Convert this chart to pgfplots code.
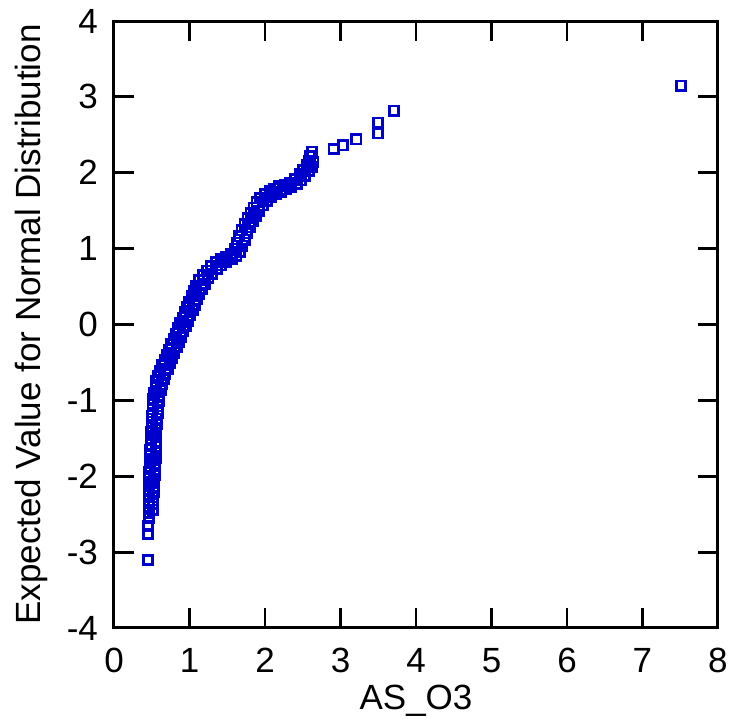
\documentclass[border=0pt]{standalone}
\usepackage{pgfplots}
\pgfplotsset{compat=1.18}
\usepackage{fontspec}
\setmainfont{Liberation Sans}
\definecolor{markblue}{RGB}{0,0,205}

\begin{document}
\fontsize{17.5}{21}\selectfont
\begin{tikzpicture}
\begin{axis}[
    at={(0,0)}, anchor=south west,
    scale only axis,
    width=302pt, height=303.5pt,
    xmin=0, xmax=8,
    ymin=-4, ymax=4,
    xtick={0,1,...,8},
    ytick={-4,-3,...,4},
    tick align=inside,
    major tick length=10pt,
    axis line style={line width=1.5pt},
    every tick/.style={black, line width=1.4pt},
    /pgf/number format/assume math mode=true,
    ticklabel style={font=\fontsize{17.5}{21}\selectfont},
    xticklabel style={yshift=-4pt},
    yticklabel style={xshift=-2pt},
    xlabel={AS\_O3},
    ylabel={Expected Value for Normal Distribution},
    label style={font=\fontsize{17.5}{21}\selectfont},
    xlabel style={at={(axis description cs:0.5,-0.12)}, anchor=center},
    ylabel style={at={(axis description cs:-0.137,0.5)}, anchor=center},
    clip=false,
]
% observations along the left edge of the band
\addplot[only marks, mark=square, mark size=2.3pt,
    mark options={draw=markblue, line width=1.4pt, fill=none}]
coordinates {
(0.45,-3.10) (0.45,-2.76) (0.45,-2.66) (0.46,-2.55) (0.46,-2.48)
(0.46,-2.40) (0.46,-2.32) (0.46,-2.25) (0.47,-2.18) (0.47,-2.10)
(0.47,-2.02) (0.47,-1.95) (0.48,-1.88) (0.48,-1.80) (0.48,-1.72)
(0.48,-1.65) (0.49,-1.58) (0.49,-1.50) (0.49,-1.42) (0.50,-1.35)
(0.50,-1.28) (0.50,-1.20) (0.51,-1.12) (0.51,-1.05) (0.52,-0.98)
(0.53,-0.90) (0.55,-0.82) (0.56,-0.75) (0.58,-0.68) (0.61,-0.61)
(0.64,-0.54) (0.67,-0.47) (0.70,-0.40) (0.73,-0.33) (0.76,-0.26)
(0.79,-0.19) (0.82,-0.12) (0.85,-0.05) (0.88,0.02) (0.91,0.09)
(0.94,0.16) (0.97,0.23) (1.00,0.30) (1.03,0.37) (1.06,0.44)
(1.09,0.51) (1.13,0.58) (1.18,0.65) (1.23,0.71) (1.29,0.77)
(1.35,0.82) (1.42,0.86) (1.49,0.89) (1.55,0.93) (1.60,1.00)
(1.63,1.08) (1.66,1.16) (1.69,1.24) (1.73,1.32) (1.77,1.40)
(1.81,1.47) (1.85,1.54) (1.89,1.61) (1.94,1.67) (2.00,1.72)
(2.06,1.76) (2.12,1.79) (2.19,1.82) (2.26,1.84) (2.33,1.87)
(2.40,1.92) (2.46,1.98) (2.51,2.04) (2.55,2.10) (2.58,2.16)
(2.60,2.22) (2.62,2.28)
(2.91,2.31) (3.03,2.36) (3.21,2.44) (3.50,2.52) (3.50,2.66)
(3.71,2.82) (7.51,3.15)
};
% observations along the right edge of the band
\addplot[only marks, mark=square, mark size=2.3pt,
    mark options={draw=markblue, line width=1.4pt, fill=none}]
coordinates {
(0.52,-2.44) (0.52,-2.36) (0.52,-2.28) (0.53,-2.21) (0.53,-2.14)
(0.53,-2.06) (0.54,-1.98) (0.54,-1.91) (0.54,-1.84) (0.55,-1.76)
(0.55,-1.68) (0.55,-1.61) (0.56,-1.54) (0.56,-1.46) (0.56,-1.38)
(0.57,-1.31) (0.57,-1.24) (0.58,-1.16) (0.58,-1.08) (0.59,-1.01)
(0.60,-0.94) (0.62,-0.86) (0.63,-0.79) (0.66,-0.72) (0.68,-0.65)
(0.71,-0.58) (0.74,-0.51) (0.77,-0.44) (0.80,-0.37) (0.83,-0.30)
(0.86,-0.23) (0.89,-0.16) (0.92,-0.09) (0.95,-0.02) (0.98,0.05)
(1.01,0.12) (1.04,0.19) (1.07,0.26) (1.10,0.33) (1.13,0.40)
(1.16,0.47) (1.20,0.54) (1.25,0.61) (1.30,0.67) (1.36,0.73)
(1.42,0.78) (1.49,0.82) (1.56,0.86) (1.62,0.90) (1.67,0.96)
(1.70,1.04) (1.73,1.12) (1.76,1.20) (1.80,1.28) (1.84,1.36)
(1.88,1.43) (1.92,1.50) (1.97,1.57) (2.02,1.63) (2.08,1.68)
(2.14,1.72) (2.21,1.75) (2.28,1.78) (2.35,1.81) (2.42,1.85)
(2.48,1.90) (2.53,1.96) (2.58,2.02) (2.62,2.08) (2.64,2.14)
};
\end{axis}
\pgfresetboundingbox
\useasboundingbox (-57pt,-48pt) rectangle (308pt,314pt);
\end{tikzpicture}
\end{document}
